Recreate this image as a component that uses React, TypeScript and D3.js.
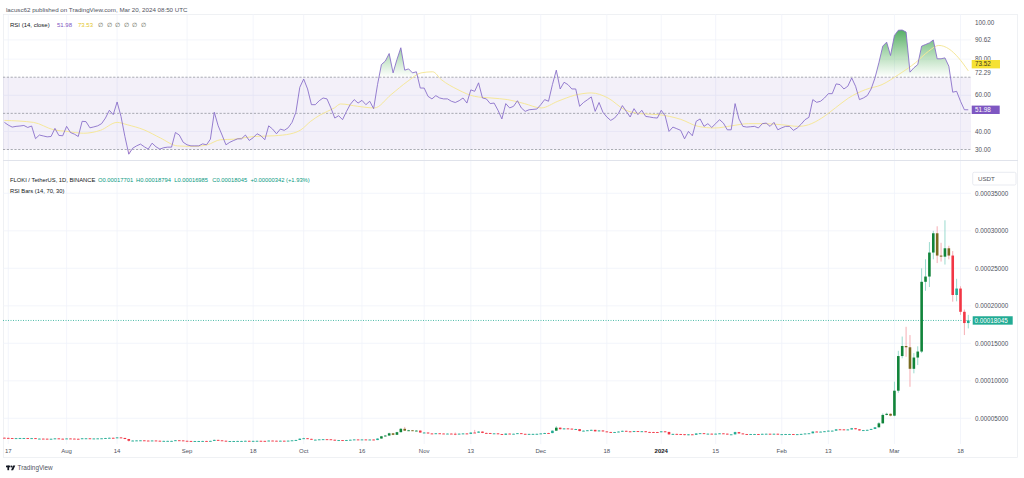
import React from "react";
import * as d3 from "d3";

// prices are kept in units of 1e-6 USDT
const startDate = Date.UTC(2023, 6, 16); // first bar, Jul 16 2023
const firstOpen = 24.1;

const closes = [
  23.9, 23.6, 23.4, 23.5, 23.6, 23.6, 23.4, 23.5, 22.7, 22.9,
  22.8, 22.7, 22.7, 23.2, 22.8, 22.7, 23.1, 22.9, 22.7, 22.5,
  23.3, 23.3, 23.0, 23.1, 23.2, 23.3, 23.6, 24.0, 23.8, 24.5,
  23.8, 22.4, 20.0, 20.3, 20.5, 20.6, 20.3, 20.0, 20.4, 20.1,
  19.8, 19.9, 19.9, 19.9, 20.7, 20.5, 20.0, 19.8, 19.7, 19.7,
  19.7, 19.8, 19.7, 19.9, 21.2, 20.6, 20.1, 19.4, 19.6, 19.7,
  19.8, 19.8, 20.0, 19.7, 19.9, 20.0, 19.9, 19.6, 20.3, 20.1,
  19.8, 20.1, 20.0, 20.2, 20.6, 21.1, 22.8, 23.4, 22.6, 21.5,
  21.5, 21.9, 22.1, 22.0, 21.4, 20.7, 20.9, 20.4, 21.0, 21.4,
  21.8, 21.5, 21.8, 21.4, 21.7, 21.0, 23.0, 26.0, 27.0, 30.0,
  28.0, 31.5, 36.0, 33.5, 34.0, 33.4, 33.6, 31.0, 31.0, 29.8,
  29.5, 30.0, 29.7, 29.6, 29.6, 29.4, 29.2, 29.5, 29.8, 29.2,
  31.0, 30.8, 32.3, 30.5, 30.4, 29.8, 29.9, 29.0, 28.0, 29.6,
  29.2, 29.4, 30.1, 29.3, 29.0, 29.2, 29.2, 29.3, 29.8, 30.4,
  30.3, 33.5, 37.5, 35.5, 36.5, 36.2, 35.6, 35.6, 33.0, 33.5,
  34.0, 34.6, 32.6, 33.8, 32.5, 31.8, 31.3, 31.6, 32.3, 33.3,
  32.6, 31.8, 32.9, 32.1, 32.7, 31.8, 31.7, 31.6, 31.5, 32.6,
  31.8, 28.6, 29.2, 29.0, 28.8, 27.6, 28.6, 28.0, 29.8, 30.1,
  29.2, 29.5, 29.0, 29.5, 29.9, 29.5, 28.6, 28.6, 31.6, 29.8,
  29.0, 28.9, 29.0, 29.0, 28.8, 29.3, 29.4, 29.0, 29.4, 28.6,
  28.8, 29.0, 29.0, 28.5, 28.8, 29.2, 29.7, 30.0, 32.3, 32.0,
  32.2, 32.7, 33.5, 33.5, 35.3, 35.2, 34.6, 35.1, 36.8, 35.4,
  33.8, 34.2, 34.6, 35.8, 38.0, 43.3, 54.5, 56.0, 53.5, 86.8,
  133.0, 146.4, 144.7, 116.0, 131.0, 139.0, 232.0, 239.0, 271.0, 296.7,
  267.0, 265.5, 276.7, 267.0, 214.4, 223.0, 192.0, 177.0, 180.45,
];

const highs = [
  24.4, 24.1, 23.8, 23.8, 23.9, 23.9, 23.8, 23.8, 23.7, 23.1,
  23.1, 23.0, 22.9, 23.5, 23.4, 23.0, 23.4, 23.3, 23.1, 22.9,
  23.6, 23.7, 23.5, 23.4, 23.5, 23.6, 23.9, 24.4, 24.3, 24.9,
  24.7, 24.0, 22.6, 20.7, 20.8, 20.9, 20.8, 20.5, 20.6, 20.6,
  20.3, 20.1, 20.1, 20.1, 21.0, 20.9, 20.6, 20.2, 20.0, 19.9,
  19.9, 20.0, 20.0, 20.1, 21.6, 21.4, 20.7, 20.2, 19.8, 19.9,
  20.0, 20.0, 20.2, 20.1, 20.1, 20.2, 20.2, 20.0, 20.5, 20.4,
  20.2, 20.3, 20.3, 20.4, 20.8, 21.4, 23.3, 24.0, 23.6, 22.8,
  21.8, 22.1, 22.4, 22.3, 22.1, 21.6, 21.1, 21.0, 21.2, 21.6,
  22.0, 21.9, 22.0, 21.9, 21.9, 21.8, 23.3, 26.5, 27.8, 30.8,
  30.5, 32.0, 37.0, 38.5, 34.6, 34.4, 34.2, 33.8, 31.6, 31.3,
  30.1, 30.3, 30.2, 30.0, 30.0, 29.9, 31.0, 29.9, 30.1, 30.0,
  31.4, 34.5, 32.8, 32.5, 30.9, 30.6, 30.2, 30.1, 29.2, 29.9,
  29.8, 29.6, 30.4, 30.3, 29.5, 29.4, 29.5, 29.5, 30.0, 30.7,
  30.7, 33.8, 39.5, 37.8, 36.9, 37.0, 36.4, 36.0, 35.8, 33.9,
  34.3, 34.9, 34.7, 34.1, 34.0, 32.7, 32.0, 31.9, 32.6, 33.6,
  33.5, 32.8, 33.2, 33.1, 33.0, 32.9, 32.1, 32.0, 31.9, 32.9,
  32.9, 32.0, 29.5, 29.5, 29.2, 29.0, 28.9, 28.8, 30.1, 30.4,
  30.3, 29.8, 29.7, 29.8, 30.2, 30.1, 29.7, 28.9, 32.2, 31.8,
  30.0, 29.2, 29.2, 29.2, 29.2, 29.5, 29.6, 29.6, 29.6, 29.6,
  29.0, 29.2, 29.2, 29.1, 29.0, 29.4, 29.9, 30.3, 32.7, 32.6,
  32.5, 33.0, 33.8, 33.9, 35.6, 35.8, 35.4, 35.4, 37.2, 37.0,
  35.6, 34.5, 34.9, 36.1, 38.3, 45.0, 56.5, 57.5, 56.5, 98.8,
  140.0, 159.0, 172.0, 161.0, 137.0, 146.0, 250.0, 262.0, 285.0, 300.0,
  306.0, 284.0, 314.0, 280.0, 273.0, 236.0, 226.0, 195.0, 187.94,
];

const lows = [
  23.6, 23.3, 23.1, 23.2, 23.3, 23.3, 23.1, 23.2, 22.4, 22.5,
  22.5, 22.4, 22.4, 22.5, 22.5, 22.4, 22.5, 22.6, 22.4, 22.2,
  22.3, 23.0, 22.8, 22.8, 22.9, 23.0, 23.1, 23.4, 23.5, 23.6,
  23.5, 22.1, 19.0, 19.7, 20.1, 20.3, 20.1, 19.8, 19.8, 19.9,
  19.6, 19.7, 19.7, 19.7, 19.8, 20.3, 19.8, 19.6, 19.5, 19.5,
  19.5, 19.6, 19.5, 19.6, 19.8, 20.4, 19.9, 19.2, 19.3, 19.5,
  19.6, 19.6, 19.7, 19.5, 19.6, 19.8, 19.7, 19.4, 19.5, 19.9,
  19.6, 19.7, 19.8, 19.9, 20.1, 20.5, 21.0, 22.5, 22.3, 21.3,
  21.2, 21.3, 21.7, 21.8, 21.2, 20.5, 20.5, 20.2, 20.3, 20.9,
  21.3, 21.3, 21.4, 21.2, 21.3, 20.8, 20.9, 22.8, 25.6, 26.8,
  27.5, 27.8, 31.2, 33.0, 33.0, 33.0, 33.0, 30.6, 30.4, 29.5,
  29.2, 29.3, 29.4, 29.3, 29.3, 29.1, 27.5, 29.0, 29.3, 28.9,
  29.0, 30.4, 30.6, 30.2, 30.1, 29.5, 29.6, 28.8, 27.7, 27.9,
  29.0, 29.0, 29.2, 29.1, 28.8, 28.9, 29.0, 29.0, 29.2, 29.6,
  30.0, 30.1, 33.2, 35.0, 35.2, 35.7, 35.3, 35.2, 32.7, 32.8,
  33.3, 33.8, 32.3, 32.4, 32.2, 31.5, 31.0, 31.1, 31.4, 32.1,
  32.3, 31.5, 31.6, 31.8, 31.9, 31.5, 31.4, 31.3, 31.2, 31.3,
  31.5, 28.0, 28.3, 28.7, 28.5, 27.3, 27.4, 27.8, 27.9, 29.5,
  29.0, 29.0, 28.8, 28.8, 29.3, 29.2, 28.4, 28.3, 28.4, 29.5,
  28.8, 28.6, 28.7, 28.8, 28.6, 28.7, 29.1, 28.8, 28.8, 28.4,
  28.4, 28.6, 28.8, 28.3, 28.4, 28.6, 29.0, 29.5, 29.8, 31.7,
  31.8, 32.0, 32.5, 33.2, 33.3, 34.8, 34.3, 34.4, 34.9, 35.1,
  33.5, 33.5, 34.0, 34.4, 35.6, 37.6, 42.8, 53.8, 52.6, 52.8,
  84.0, 130.0, 132.0, 92.0, 110.0, 121.0, 137.0, 220.0, 225.0, 262.0,
  257.0, 259.0, 255.0, 262.0, 205.5, 206.0, 188.0, 161.0, 169.85,
];

const rsiValues = [
  45.0, 43.5, 42.4, 42.8, 43.0, 43.3, 42.2, 43.0, 36.0, 38.0,
  37.5, 37.0, 37.2, 41.7, 37.8, 37.6, 42.8, 39.4, 38.5, 37.2,
  45.6, 45.4, 42.0, 42.5, 43.1, 44.3, 47.4, 51.7, 49.3, 56.3,
  48.3, 37.2, 27.4, 30.7, 32.0, 33.0, 31.5, 30.2, 33.5, 31.5,
  30.2, 31.0, 31.3, 31.3, 39.4, 38.0, 34.0, 32.6, 32.0, 32.0,
  32.0, 33.1, 32.6, 35.7, 50.6, 43.1, 38.0, 32.6, 34.0, 35.0,
  35.9, 35.9, 38.0, 35.0, 36.5, 38.7, 37.6, 35.4, 43.1, 41.3,
  38.7, 41.3, 40.6, 42.0, 45.0, 50.6, 64.4, 69.0, 63.5, 54.8,
  54.8, 57.0, 58.5, 58.0, 53.0, 47.4, 48.7, 46.5, 51.0, 55.0,
  57.6, 55.7, 57.2, 54.8, 56.7, 52.6, 65.9, 77.0, 78.9, 83.1,
  72.4, 79.8, 86.3, 73.9, 74.6, 72.4, 73.0, 64.0, 64.0, 59.4,
  58.0, 59.8, 58.5, 58.0, 58.0, 56.7, 56.0, 57.0, 58.5, 55.7,
  63.0, 62.2, 66.9, 58.5, 58.0, 55.4, 55.7, 51.7, 46.9, 55.4,
  53.0, 53.9, 57.0, 53.0, 51.1, 52.0, 52.2, 52.4, 54.8, 57.6,
  56.7, 65.9, 73.9, 63.5, 67.2, 65.9, 63.5, 63.5, 53.9, 56.0,
  57.5, 59.1, 51.1, 56.0, 50.6, 48.0, 46.1, 47.4, 50.0, 54.3,
  51.1, 48.0, 52.6, 49.3, 51.7, 48.3, 48.0, 47.6, 47.4, 51.7,
  48.7, 40.0, 42.4, 41.5, 40.6, 35.9, 40.0, 37.6, 45.6, 46.9,
  42.8, 44.3, 42.2, 44.3, 46.5, 44.6, 40.9, 40.9, 55.4, 46.9,
  42.8, 42.4, 42.6, 42.8, 41.9, 44.3, 44.6, 42.8, 45.0, 40.9,
  42.0, 42.8, 42.8, 40.6, 41.9, 44.0, 46.5, 47.8, 57.6, 56.1,
  56.7, 58.5, 60.9, 60.9, 66.3, 65.9, 63.5, 65.0, 69.6, 65.0,
  57.6, 58.5, 59.8, 63.5, 69.6, 78.0, 87.2, 89.4, 82.0, 93.1,
  96.0, 96.1, 95.0, 72.8, 75.2, 77.0, 87.2, 88.1, 89.0, 90.6,
  80.2, 80.2, 80.7, 76.1, 61.7, 62.2, 56.7, 52.0, 51.98,
];

// RSI-based MA, read at sparse points (days after Jul 17 2023)
const maDays = [
  -1, 6.5, 11.7, 15.1, 19.4, 23.7, 28, 30.6, 34.9, 39.2, 43.5, 47.8, 51.2, 54.6, 58.1,
  63.2, 68.4, 72.7, 75.3, 77.8, 80.4, 83.9, 85.5, 89.9, 94.2, 98.5, 102.8, 106.2, 109.2,
  111.4, 115.7, 120, 124.2, 128.5, 132.8, 137.1, 141.4, 145.7, 150, 154.3, 158.6, 162.9,
  167.2, 173, 177.5, 181.8, 186.1, 190.4, 194.7, 199, 203.3, 205.9, 209.3, 212.8, 216.2,
  220.5, 224.8, 229.1, 233.4, 236.8, 239.4, 242, 244.5, 247,
];
const maValues = [
  46.1, 45, 40.9, 40, 39, 40.6, 45, 43.7, 40.9, 36.3, 32, 31.7, 32.6, 35.4, 35.7,
  37.2, 37.6, 38.7, 40.9, 45.6, 49.3, 53, 55.2, 53.9, 53, 60.4, 67.8, 72.4, 73,
  68.7, 63.1, 59.4, 58.5, 57.6, 55.4, 53, 56.7, 60, 61.3, 58.5, 52, 49.8,
  49.3, 46.7, 42.8, 41.9, 43.1, 44.3, 44.3, 43.7, 42.8, 43.7, 47.4, 53, 58.5,
  63.1, 65.9, 71.5, 78, 84.4, 87.6, 85.7, 80.7, 73.52,
];

const timeTicks: [number, number, number, string][] = [
  [2023, 6, 17, "17"], [2023, 7, 1, "Aug"], [2023, 7, 14, "14"], [2023, 8, 1, "Sep"],
  [2023, 8, 18, "18"], [2023, 9, 1, "Oct"], [2023, 9, 16, "16"], [2023, 10, 1, "Nov"],
  [2023, 10, 13, "13"], [2023, 11, 1, "Dec"], [2023, 11, 18, "18"], [2024, 0, 1, "2024"],
  [2024, 0, 15, "15"], [2024, 1, 1, "Feb"], [2024, 1, 13, "13"], [2024, 2, 1, "Mar"],
  [2024, 2, 18, "18"],
];
const priceTicks = [50, 100, 150, 200, 250, 300, 350];
const rsiTicks = [100, 90.62, 80, 72.29, 60, 40, 30];
const rsiGrid = [90.62, 80, 60, 40];
const rsiLevels = [70, 50, 30];

const legendValues = ["O0.00017701", "H0.00018794", "L0.00016985", "C0.00018045", "+0.00000342 (+1.93%)"];

const DAY = 86400000;
const FONT = "'Liberation Sans', Arial, sans-serif";
const left = 3, plotRight = 971, frameRight = 1018;
const rsiTop = 14, rsiBottom = 160, priceBottom = 444, axisBottom = 458;

const dates = closes.map((_, i) => new Date(startDate + i * DAY));
const x = d3.scaleUtc()
  .domain([new Date(Date.UTC(2023, 6, 17)), new Date(Date.UTC(2024, 2, 18))])
  .range([8.3, 960.5]);
const yRsi = d3.scaleLinear().domain([30, 100]).range([149.5, 23]);
const yPrice = d3.scaleLinear().domain([0, 350]).range([455.8, 193.3]);
const maDate = (d: number) => new Date(Date.UTC(2023, 6, 17) + d * DAY);

const rsiLine = d3.line<number>().x((_, i) => x(dates[i])).y(v => yRsi(v));
const obArea = d3.area<number>().x((_, i) => x(dates[i])).y0(yRsi(70)).y1(v => yRsi(v));
const osArea = d3.area<number>().x((_, i) => x(dates[i])).y0(yRsi(30)).y1(v => yRsi(v));
const maLine = d3.line<number>()
  .x((_, i) => x(maDate(maDays[i])))
  .y(v => yRsi(v))
  .curve(d3.curveMonotoneX);

const fmtPrice = (p: number) => (p * 1e-6).toFixed(8);

export default function App() {
  const last = closes[closes.length - 1];
  const bodyW = 2.6;
  return (
    <svg width={1024} height={478} style={{ position: "absolute", left: 0, top: 0, background: "#fff" }}
      fontFamily={FONT}>
      <defs>
        <linearGradient id="ob" gradientUnits="userSpaceOnUse" x1="0" y1={yRsi(100)} x2="0" y2={yRsi(70)}>
          <stop offset="0" stopColor="#2f9b45" stopOpacity="0.95" />
          <stop offset="1" stopColor="#4caf50" stopOpacity="0" />
        </linearGradient>
        <linearGradient id="os" gradientUnits="userSpaceOnUse" x1="0" y1={yRsi(30)} x2="0" y2={rsiBottom}>
          <stop offset="0" stopColor="#f23645" stopOpacity="0" />
          <stop offset="1" stopColor="#f23645" stopOpacity="0.8" />
        </linearGradient>
        <clipPath id="obClip"><rect x={left} y={rsiTop} width={plotRight - left} height={yRsi(70) - rsiTop} /></clipPath>
        <clipPath id="osClip"><rect x={left} y={yRsi(30)} width={plotRight - left} height={rsiBottom - yRsi(30)} /></clipPath>
        <clipPath id="rsiClip"><rect x={left} y={rsiTop} width={plotRight - left} height={rsiBottom - rsiTop} /></clipPath>
      </defs>

      <text x={6} y={11.5} fontSize={6.2} fill="#50535e">
        lacusc62 published on TradingView.com, Mar 20, 2024 08:50 UTC
      </text>

      {/* frame */}
      <rect x={left + 0.5} y={rsiTop + 0.5} width={frameRight - left - 1} height={axisBottom - rsiTop - 1}
        fill="none" stroke="#e9ebf0" strokeWidth={0.7} />

      {/* grid */}
      {timeTicks.map(([yy, mm, dd, label]) => {
        const gx = x(new Date(Date.UTC(yy, mm, dd)));
        return (
          <g key={label + mm}>
            <line x1={gx} x2={gx} y1={rsiTop} y2={rsiBottom} stroke="#f0f3fa" strokeWidth={0.8} />
            <line x1={gx} x2={gx} y1={rsiBottom + 1} y2={priceBottom} stroke="#f0f3fa" strokeWidth={0.8} />
          </g>
        );
      })}
      {rsiGrid.map(v => (
        <line key={v} x1={left} x2={plotRight} y1={yRsi(v)} y2={yRsi(v)} stroke="#f0f3fa" strokeWidth={0.8} />
      ))}
      {priceTicks.map(v => (
        <line key={v} x1={left} x2={plotRight} y1={yPrice(v)} y2={yPrice(v)} stroke="#f0f3fa" strokeWidth={0.8} />
      ))}

      {/* RSI pane */}
      <rect x={left} y={yRsi(70)} width={plotRight - left} height={yRsi(30) - yRsi(70)} fill="#7e57c2" fillOpacity={0.09} />
      {rsiLevels.map(v => (
        <line key={v} x1={left} x2={plotRight} y1={yRsi(v)} y2={yRsi(v)} stroke="#9598a1" strokeWidth={0.8}
          strokeDasharray="2.2,1.6" />
      ))}
      <g clipPath="url(#rsiClip)">
        <path d={obArea(rsiValues) ?? ""} fill="url(#ob)" clipPath="url(#obClip)" />
        <path d={osArea(rsiValues) ?? ""} fill="url(#os)" clipPath="url(#osClip)" />
        <path d={maLine(maValues) ?? ""} fill="none" stroke="#f6e89a" strokeWidth={1} />
        <path d={rsiLine(rsiValues) ?? ""} fill="none" stroke="#8469c8" strokeWidth={0.85} />
      </g>

      <text y={27.3} fontSize={6} fill="#131722">
        <tspan x={10}>RSI (14, close)</tspan>
        <tspan x={57} fill="#7e57c2">51.98</tspan>
        <tspan x={78} fill="#e3c62a">73.53</tspan>
        {[0, 1, 2, 3, 4, 5].map(k => (
          <tspan key={k} x={98 + k * 8.6} fill="#4f5b45">∅</tspan>
        ))}
      </text>

      {/* pane separator */}
      <line x1={left} x2={frameRight} y1={rsiBottom + 0.5} y2={rsiBottom + 0.5} stroke="#e0e3eb" strokeWidth={1} />

      {/* price pane */}
      <line x1={left} x2={plotRight} y1={yPrice(last)} y2={yPrice(last)} stroke="#22ab94" strokeWidth={0.8}
        strokeDasharray="1,1.5" />
      {closes.map((c, i) => {
        const o = i === 0 ? firstOpen : closes[i - 1];
        const up = c >= o;
        const ob = rsiValues[i] > 70;
        const body = ob ? (up ? "#11843a" : "#786b1f") : (up ? "#22ab94" : "#f23645");
        const wick = up ? "#8fd6c8" : "#f5a4ab";
        const cx = x(dates[i]);
        const top = yPrice(Math.max(o, c));
        const h = Math.max(0.9, yPrice(Math.min(o, c)) - top);
        return (
          <g key={i}>
            <line x1={cx} x2={cx} y1={yPrice(highs[i])} y2={yPrice(lows[i])} stroke={wick} strokeWidth={0.9} />
            <rect x={cx - bodyW / 2} y={top} width={bodyW} height={h} fill={body} />
          </g>
        );
      })}

      <text y={182} fontSize={5.8} fill="#131722">
        <tspan x={10}>FLOKI / TetherUS, 1D, BINANCE</tspan>
        {legendValues.map((t, k) => (
          <tspan key={t} x={98 + k * 38.1} fill="#089981">{t}</tspan>
        ))}
      </text>
      <text x={10} y={192.5} fontSize={5.8} fill="#131722">RSI Bars (14, 70, 30)</text>

      {/* right scale */}
      {rsiTicks.map(v => (
        <text key={v} x={975} y={yRsi(v) + 2.2} fontSize={6.3} fill="#50535e">{v.toFixed(2)}</text>
      ))}
      <rect x={971.7} y={60} width={28.3} height={8.4} fill="#f5e133" />
      <text x={975} y={66.3} fontSize={6.3} fill="#3d3a1c">73.52</text>
      <rect x={971.7} y={105.6} width={28} height={8.4} fill="#7e57c2" />
      <text x={975} y={111.9} fontSize={6.3} fill="#fff">51.98</text>

      <rect x={972.7} y={172.3} width={43.3} height={12.7} rx={1.5} fill="#fff" stroke="#e0e3eb" strokeWidth={0.7} />
      <text x={978} y={181} fontSize={6.2} fill="#50535e">USDT</text>
      {priceTicks.map(v => (
        <text key={v} x={975} y={yPrice(v) + 2.2} fontSize={6.3} fill="#50535e">{fmtPrice(v)}</text>
      ))}
      <rect x={972.7} y={yPrice(last) - 4.2} width={40} height={8.4} fill="#22ab94" />
      <text x={974.5} y={yPrice(last) + 2.2} fontSize={6.3} fill="#fff">{fmtPrice(last)}</text>

      {/* time axis */}
      {timeTicks.map(([yy, mm, dd, label]) => (
        <text key={"t" + label + mm} x={x(new Date(Date.UTC(yy, mm, dd)))} y={453.3} fontSize={6}
          textAnchor="middle" fill={label === "2024" ? "#131722" : "#50535e"}
          fontWeight={label === "2024" ? 700 : 400}>{label}</text>
      ))}

      {/* logo */}
      <g fill="#131722">
        <rect x={6} y={465.6} width={4.4} height={1.7} />
        <rect x={7.4} y={465.6} width={1.7} height={4.6} />
        <circle cx={11.6} cy={466.5} r={0.95} />
        <path d="M13.2,465.6 L15.3,465.6 L13.1,470.2 L11.0,470.2 Z" />
      </g>
      <text x={17.5} y={470.2} fontSize={6.4} fill="#50535e">TradingView</text>
    </svg>
  );
}
